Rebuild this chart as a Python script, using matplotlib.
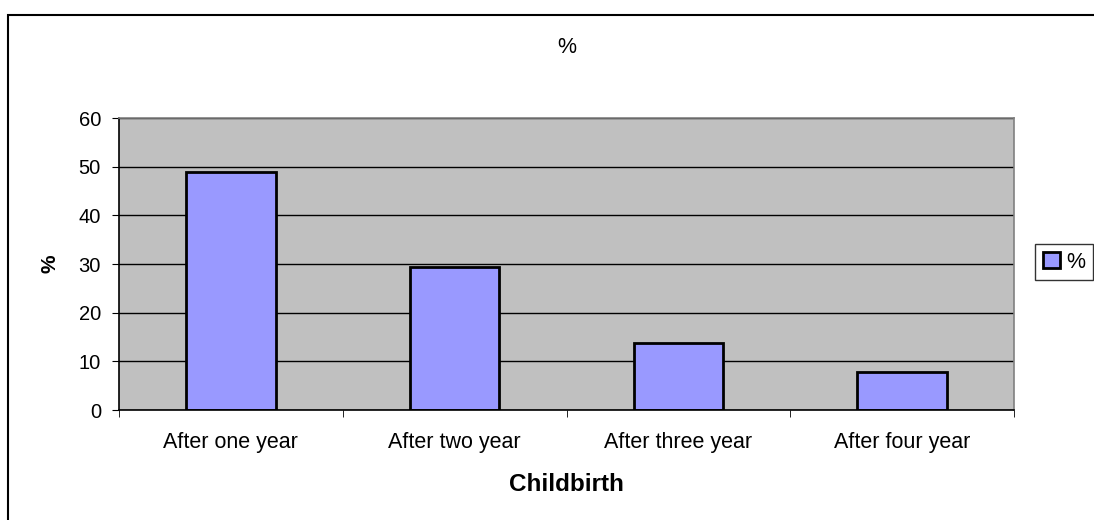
import matplotlib.pyplot as plt
from matplotlib.patches import Rectangle

plt.rcParams['font.family'] = ['Liberation Sans', 'DejaVu Sans']

# Share of childbirths by interval
categories = ['After one year', 'After two year', 'After three year', 'After four year']
percent = [49.0, 29.4, 13.7, 7.8]
y_ticks = [0, 10, 20, 30, 40, 50, 60]

W, H = 1094, 520
fig = plt.figure(figsize=(W / 100, H / 100), dpi=100)
ax = fig.add_axes([119 / W, 1 - 410 / H, (1014 - 119) / W, (410 - 118) / H])

# outer chart frame, its right/bottom edges run off the image
fig.patches.append(Rectangle((8 / W, -0.1), 1.2, 1 - 15 / H + 0.1,
                             transform=fig.transFigure, fill=False,
                             edgecolor='black', linewidth=1.5))

ax.set_facecolor('#C0C0C0')
ax.set_axisbelow(True)
ax.yaxis.grid(True, color='black', linewidth=1)

x = range(len(categories))
ax.bar(x, percent, width=0.4, color='#9999FF', edgecolor='black',
       linewidth=2, label='%')

ax.set_xlim(-0.5, len(categories) - 0.5)
ax.set_ylim(0, 60)
ax.set_yticks(y_ticks)
ax.set_xticks(list(x))
ax.set_xticklabels(categories)
ax.set_xticks([i - 0.5 for i in range(len(categories) + 1)], minor=True)
ax.tick_params(axis='x', which='major', length=0, pad=16, labelsize=15.5)
ax.tick_params(axis='x', which='minor', length=5, direction='out')
ax.tick_params(axis='y', length=5, direction='out', labelsize=14.5, pad=8)

for side in ['top', 'right']:
    ax.spines[side].set_color('#808080')
for side in ['left', 'bottom']:
    ax.spines[side].set_color('black')
for sp in ax.spines.values():
    sp.set_linewidth(1.2)

ax.set_title('%', fontsize=15.5, pad=47)
ax.set_xlabel('Childbirth', fontsize=17.5, fontweight='bold', labelpad=14)
ax.set_ylabel('%', fontsize=15, fontweight='bold', labelpad=14)

leg = fig.legend(loc='upper left', bbox_to_anchor=(1035 / W, 1 - 244 / H),
                 borderaxespad=0, fontsize=15.5, handlelength=0.8,
                 handleheight=0.8, handletextpad=0.3, borderpad=0.35,
                 fancybox=False)
leg.get_frame().set_edgecolor('black')
leg.get_frame().set_linewidth(1.0)

fig.savefig('out.png', dpi=100)
